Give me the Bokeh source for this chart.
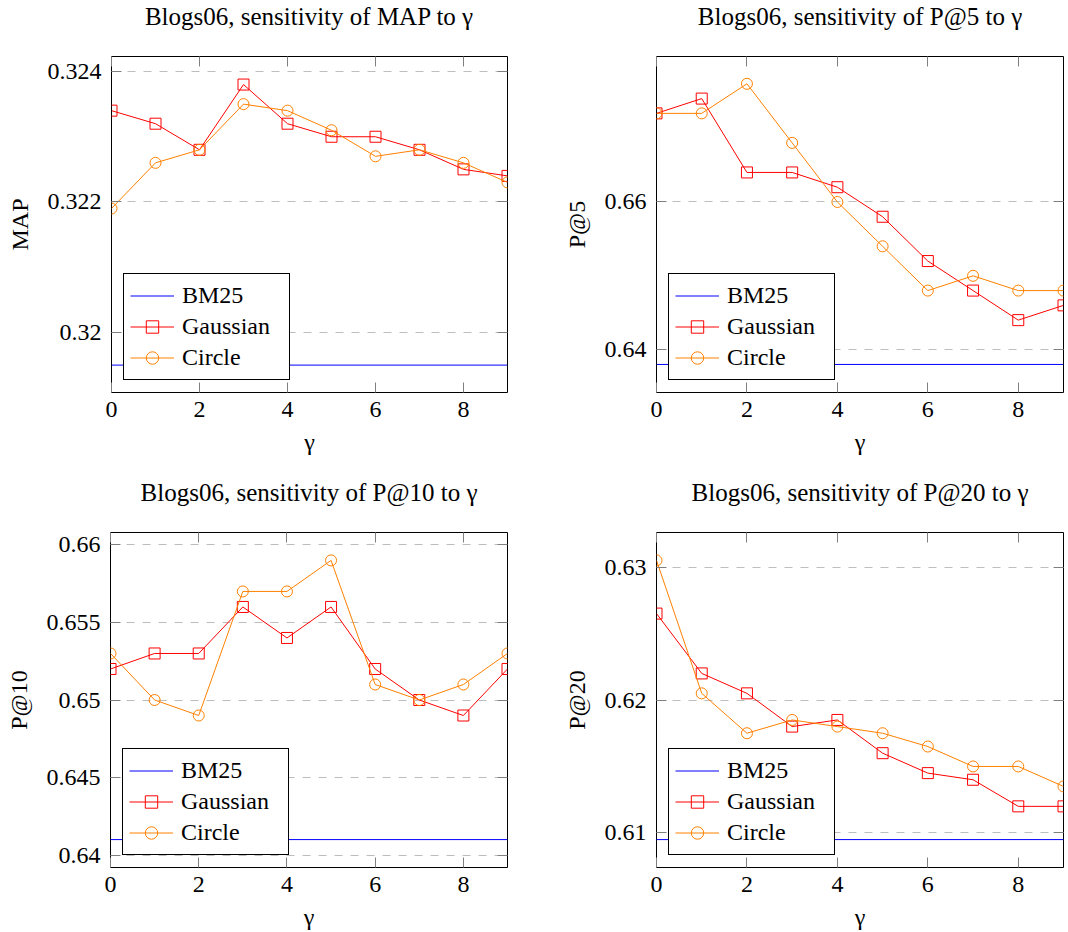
from bokeh.plotting import figure
from bokeh.models import (Range1d, FixedTicker, LinearAxis, Legend, LegendItem,
                          CustomJSTickFormatter, CustomLabelingPolicy)
from bokeh.layouts import column, row
from bokeh.embed import file_html
from bokeh.resources import INLINE

# ---------------- data ----------------
gamma = [0, 1, 2, 3, 4, 5, 6, 7, 8, 9]
x_ticks = [0, 2, 4, 6, 8]

metrics = ["MAP", "P@5", "P@10", "P@20"]

map_gaussian = [0.3234, 0.3232, 0.3228, 0.3238, 0.3232, 0.3230, 0.3230, 0.3228, 0.3225, 0.3224]
map_circle = [0.3219, 0.3226, 0.3228, 0.3235, 0.3234, 0.3231, 0.3227, 0.3228, 0.3226, 0.3223]
map_bm25 = 0.3195
map_ticks = [0.320, 0.322, 0.324]
map_range = [0.31908, 0.32423]

p5_gaussian = [0.672, 0.674, 0.664, 0.664, 0.662, 0.658, 0.652, 0.648, 0.644, 0.646]
p5_circle = [0.672, 0.672, 0.676, 0.668, 0.660, 0.654, 0.648, 0.650, 0.648, 0.648]
p5_bm25 = 0.638
p5_ticks = [0.64, 0.66]
p5_range = [0.6342, 0.6797]

p10_gaussian = [0.652, 0.653, 0.653, 0.656, 0.654, 0.656, 0.652, 0.650, 0.649, 0.652]
p10_circle = [0.653, 0.650, 0.649, 0.657, 0.657, 0.659, 0.651, 0.650, 0.651, 0.653]
p10_bm25 = 0.641
p10_ticks = [0.640, 0.645, 0.650, 0.655, 0.660]
p10_range = [0.6392, 0.6608]

p20_gaussian = [0.6265, 0.622, 0.6205, 0.618, 0.6185, 0.616, 0.6145, 0.614, 0.612, 0.612]
p20_circle = [0.6305, 0.6205, 0.6175, 0.6185, 0.618, 0.6175, 0.6165, 0.615, 0.615, 0.6135]
p20_bm25 = 0.6095
p20_ticks = [0.61, 0.62, 0.63]
p20_range = [0.6074, 0.6326]

series_names = ["BM25", "Gaussian", "Circle"]

# ---------------- style ----------------
FONT = "Liberation Serif"
FS = "24px"
BLUE = "#0000ff"
RED = "#ff0000"
ORANGE = "#ff8000"
TICK_COLOR = "#7f7f7f"
GRID_COLOR = "#bdbdbd"

fmt = CustomJSTickFormatter(code="return String(parseFloat(tick.toFixed(6)));")
no_labels = CustomLabelingPolicy(code="""
for (const i of Array.from(indices)) { indices.unset(i) }
return indices
""")


def make_panel(metric, gauss, circ, bm25, yticks, yrange,
               width, height, bl, br, bt, bb):
    p = figure(width=width, height=height, output_backend="svg",
               toolbar_location=None,
               x_range=Range1d(gamma[0], gamma[-1]),
               y_range=Range1d(yrange[0], yrange[1]),
               min_border_left=bl, min_border_right=br,
               min_border_top=bt, min_border_bottom=bb,
               x_axis_label="\u03b3", y_axis_label=metric)
    p.title.text = "Blogs06, sensitivity of %s to \u03b3" % metric
    p.title.text_font = FONT
    p.title.text_font_size = "25px"
    p.title.text_font_style = "normal"
    p.title.text_color = "black"
    p.title.align = "center"
    p.title.vertical_align = "bottom"
    p.title.standoff = 0
    p.title.padding = dict(left=0, right=0, top=0, bottom=23)
    p.outline_line_color = "black"
    p.outline_line_width = 1
    p.outline_line_alpha = 1
    p.background_fill_color = "white"
    p.border_fill_color = "white"

    p.xgrid.visible = False
    p.ygrid.ticker = FixedTicker(ticks=yticks)
    p.ygrid.grid_line_color = GRID_COLOR
    p.ygrid.grid_line_dash = "8 8"
    p.ygrid.grid_line_width = 1

    p.xaxis.ticker = FixedTicker(ticks=x_ticks)
    p.yaxis.ticker = FixedTicker(ticks=yticks)
    p.yaxis.formatter = fmt
    for ax in (p.xaxis[0], p.yaxis[0]):
        ax.axis_line_color = None
        ax.major_tick_in = 10
        ax.major_tick_out = 0
        ax.major_tick_line_color = TICK_COLOR
        ax.minor_tick_line_color = None
        ax.major_label_text_font = FONT
        ax.major_label_text_font_size = FS
        ax.major_label_text_color = "black"
        ax.axis_label_text_font = FONT
        ax.axis_label_text_font_size = FS
        ax.axis_label_text_font_style = "normal"
        ax.axis_label_text_color = "black"
    p.xaxis.major_label_standoff = 9
    p.xaxis.axis_label_standoff = 9
    p.yaxis.major_label_standoff = 10
    p.yaxis.axis_label_standoff = 12

    # mirrored ticks on top and right (labels suppressed)
    top = LinearAxis(ticker=FixedTicker(ticks=x_ticks), axis_line_color=None,
                     major_tick_in=10, major_tick_out=0,
                     major_tick_line_color=TICK_COLOR, minor_tick_line_color=None,
                     major_label_policy=no_labels, major_label_standoff=0,
                     major_label_text_font_size="1px")
    right = LinearAxis(ticker=FixedTicker(ticks=yticks), axis_line_color=None,
                       major_tick_in=10, major_tick_out=0,
                       major_tick_line_color=TICK_COLOR, minor_tick_line_color=None,
                       major_label_policy=no_labels, major_label_standoff=0,
                       major_label_text_font_size="1px")
    p.add_layout(top, "above")
    p.add_layout(right, "right")

    r_bm = p.line([gamma[0], gamma[-1]], [bm25, bm25], line_color=BLUE, line_width=1)
    r_gl = p.line(gamma, gauss, line_color=RED, line_width=1)
    r_gm = p.scatter(gamma, gauss, marker="square", size=11, line_color=RED,
                     fill_color=None, line_width=1)
    r_cl = p.line(gamma, circ, line_color=ORANGE, line_width=1)
    r_cm = p.scatter(gamma, circ, marker="circle", size=11, line_color=ORANGE,
                     fill_color=None, line_width=1)

    legend = Legend(items=[
        LegendItem(label=series_names[0], renderers=[r_bm]),
        LegendItem(label=series_names[1], renderers=[r_gl, r_gm]),
        LegendItem(label=series_names[2], renderers=[r_cl, r_cm]),
    ], location="bottom_left")
    legend.margin = 12
    legend.padding = 6
    legend.spacing = 0
    legend.glyph_width = 44
    legend.glyph_height = 31
    legend.label_height = 31
    legend.label_width = 101
    legend.label_standoff = 8
    legend.label_text_font = FONT
    legend.label_text_font_size = FS
    legend.label_text_color = "black"
    legend.border_line_color = "black"
    legend.border_line_width = 1
    legend.border_line_alpha = 1
    legend.background_fill_color = "white"
    legend.background_fill_alpha = 1
    p.add_layout(legend)
    return p


p1 = make_panel(metrics[0], map_gaussian, map_circle, map_bm25, map_ticks, map_range,
                540, 466, 111, 33, 56, 74)
p2 = make_panel(metrics[1], p5_gaussian, p5_circle, p5_bm25, p5_ticks, p5_range,
                528, 466, 116, 4, 56, 74)
p3 = make_panel(metrics[2], p10_gaussian, p10_circle, p10_bm25, p10_ticks, p10_range,
                540, 466, 110, 33, 66, 63)
p4 = make_panel(metrics[3], p20_gaussian, p20_circle, p20_bm25, p20_ticks, p20_range,
                528, 466, 116, 4, 66, 63)

layout = column(row(p1, p2, spacing=0), row(p3, p4, spacing=0), spacing=0)

open("out.html", "w").write(file_html(layout, INLINE))
